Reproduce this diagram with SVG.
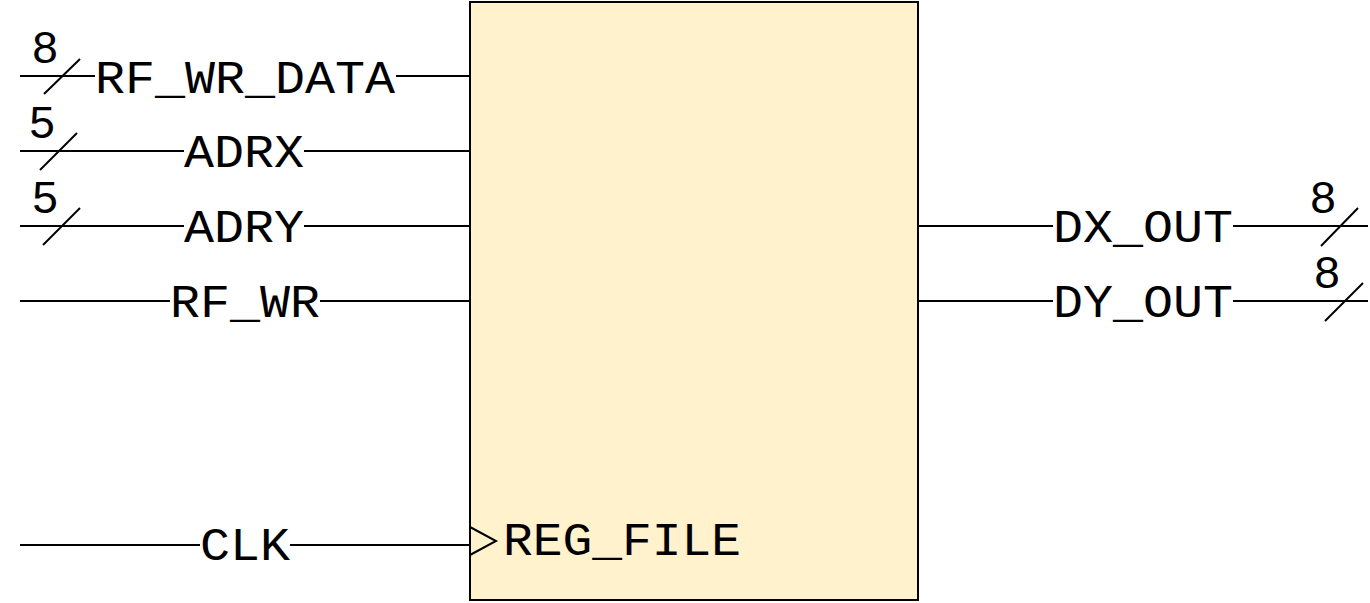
<svg xmlns="http://www.w3.org/2000/svg" width="1370" height="603" viewBox="0 0 1370 603">
<style>
.w{stroke:#000;stroke-width:2;fill:none}
.t{font-family:"Liberation Mono","Courier New",monospace;font-size:46px;fill:#000;text-anchor:middle}
</style>
<rect width="1370" height="603" fill="#fff"/>
<g id="reg_file">
<rect x="470" y="2" width="448" height="598" fill="#fff2cc" stroke="#000" stroke-width="2"/>
<polyline class="w" points="470,527 496,541 470,555"/>
<text class="t" x="622" y="555" textLength="238" lengthAdjust="spacingAndGlyphs">REG_FILE</text>
</g>
<g id="connectors">
<line class="w" x1="20" y1="76" x2="95" y2="76"/>
<line class="w" x1="396" y1="76" x2="470" y2="76"/>
<line class="w" x1="44" y1="94" x2="80" y2="59"/>
<line class="w" x1="20" y1="151" x2="184" y2="151"/>
<line class="w" x1="304" y1="151" x2="470" y2="151"/>
<line class="w" x1="40" y1="170" x2="77" y2="133"/>
<line class="w" x1="20" y1="226" x2="184" y2="226"/>
<line class="w" x1="304" y1="226" x2="470" y2="226"/>
<line class="w" x1="43" y1="245" x2="80" y2="208"/>
<line class="w" x1="20" y1="301" x2="170" y2="301"/>
<line class="w" x1="320" y1="301" x2="470" y2="301"/>
<line class="w" x1="20" y1="545" x2="200" y2="545"/>
<line class="w" x1="290" y1="545" x2="470" y2="545"/>
<line class="w" x1="918" y1="226" x2="1053" y2="226"/>
<line class="w" x1="1233" y1="226" x2="1368" y2="226"/>
<line class="w" x1="1321" y1="246" x2="1358" y2="208"/>
<line class="w" x1="918" y1="301" x2="1053" y2="301"/>
<line class="w" x1="1233" y1="301" x2="1368" y2="301"/>
<line class="w" x1="1325" y1="321" x2="1363" y2="283"/>
</g>
<g id="labels">
<text class="t" x="245" y="93" textLength="300" lengthAdjust="spacingAndGlyphs">RF_WR_DATA</text>
<text class="t" x="244" y="167" textLength="120" lengthAdjust="spacingAndGlyphs">ADRX</text>
<text class="t" x="244" y="242" textLength="120" lengthAdjust="spacingAndGlyphs">ADRY</text>
<text class="t" x="245" y="317" textLength="150" lengthAdjust="spacingAndGlyphs">RF_WR</text>
<text class="t" x="245" y="560" textLength="90" lengthAdjust="spacingAndGlyphs">CLK</text>
<text class="t" x="1143" y="242" textLength="180" lengthAdjust="spacingAndGlyphs">DX_OUT</text>
<text class="t" x="1143" y="317" textLength="180" lengthAdjust="spacingAndGlyphs">DY_OUT</text>
<text class="t" x="45" y="63">8</text>
<text class="t" x="42" y="138">5</text>
<text class="t" x="45" y="213">5</text>
<text class="t" x="1323" y="213">8</text>
<text class="t" x="1327" y="288">8</text>
</g>
</svg>
